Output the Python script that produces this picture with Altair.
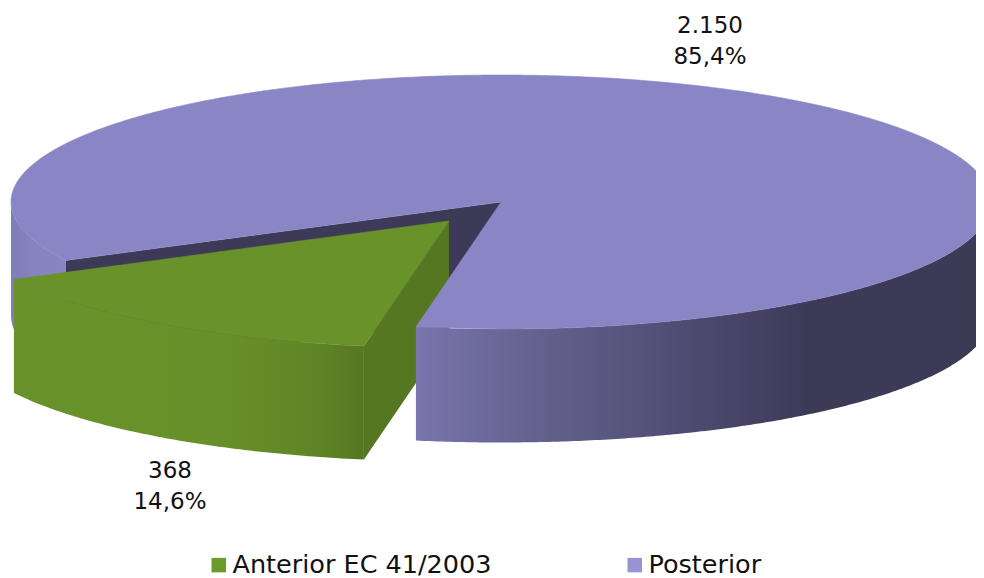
import numpy as np
import pandas as pd
import altair as alt

# Data
CATEGORIES = ["Anterior EC 41/2003", "Posterior"]
VALUES = [368, 2150]
VALUE_LABELS = ["368", "2.150"]
PCT_LABELS = ["14,6%", "85,4%"]
LEGEND_COLORS = ["#6c9a2b", "#9894d3"]

# 3D pie projection (picture pixels)
CX, CY, RX, RY = 501.0, 202.0, 490.0, 127.0
DEPTH = 113.5 / RY
EXPLODE_U, EXPLODE_V = -52.0 / RX, 19.0 / RY
START_DEG = 10.0
W, H = 968, 570
FONT = "DejaVu Sans"

share = VALUES[0] / sum(VALUES)
phi0 = np.radians(START_DEG)
phi1 = phi0 + 2 * np.pi * share
uB, vB = -np.sin(phi0), np.cos(phi0)
uA, vA = -np.sin(phi1), np.cos(phi1)


def ell(u):
    return np.sqrt(np.clip(1 - u * u, 0, 1))


def span(a, b, n=160):
    """u values between a and b, dense near the ellipse's vertical tangents."""
    s = np.linspace(np.arcsin(a), np.arcsin(b), n)
    return np.sin(s)


def frame(u, top, bot):
    return pd.DataFrame({"u": u, "v": top, "v2": bot})


xs = alt.Scale(domain=[(8 - CX) / RX, (8 + W - CX) / RX], nice=False, zero=False)
ys = alt.Scale(domain=[(8 + H - CY) / RY, (8 - CY) / RY], nice=False, zero=False)


def area(df, fill, stroke=None):
    kw = {"stroke": stroke, "strokeWidth": 0.6} if stroke else {}
    return alt.Chart(df).mark_area(orient="vertical", fill=fill, clip=True, **kw).encode(
        x=alt.X("u:Q", scale=xs, axis=None),
        y=alt.Y("v:Q", scale=ys, axis=None),
        y2="v2:Q",
    )


def grad(stops):
    return alt.Gradient(
        gradient="linear", x1=0, x2=1, y1=0, y2=0,
        stops=[alt.GradientStop(offset=o, color=c) for o, c in stops],
    )


PURPLE_TOP = "#8a86c6"
GREEN_TOP = "#6a922a"

# Purple outer wall, left of the gap
u = span(-1, uA, 60)
p_left = area(frame(u, ell(u), ell(u) + DEPTH),
              grad([(0, "#7f7cb8"), (0.4, "#8683bd"), (1, "#8885c2")]))

# Purple inner wall seen through the gap
u = np.array([uA, 0.0])
p_inner = area(frame(u, np.array([vA, 0.0]), np.array([vA, 0.0]) + DEPTH), "#3c3a57")

# Green slice
u = span(uA, uB, 80)
g_wall = area(frame(u + EXPLODE_U, ell(u) + EXPLODE_V, ell(u) + EXPLODE_V + DEPTH),
              grad([(0, GREEN_TOP), (0.6, "#68902a"), (0.87, "#5f8426"), (1, "#567722")]))
u = np.array([uB, 0.0])
g_inner = area(frame(u + EXPLODE_U, np.array([vB, 0.0]) + EXPLODE_V,
                     np.array([vB, 0.0]) + EXPLODE_V + DEPTH), "#567722")
gu = np.concatenate([span(uA, uB, 80), [0.0]])
g_top_v = vA * gu / uA
g_bot_v = np.where(gu <= uB, ell(gu), vB * gu / uB)
g_top = area(frame(gu + EXPLODE_U, g_top_v + EXPLODE_V, g_bot_v + EXPLODE_V), GREEN_TOP, GREEN_TOP)

# Purple outer wall, front
u = span(uB, 1, 200)
p_front = area(frame(u, ell(u), ell(u) + DEPTH),
               grad([(0, "#7975ad"), (0.2, "#65628f"), (0.45, "#504d75"),
                     (0.68, "#3d3a58"), (1, "#3c3a55")]))

# Purple top face, in two pieces either side of the centre
ua = np.concatenate([span(-1, uA, 80), span(uA, 0, 120)[1:]])
a_low = np.where(ua <= uA, ell(ua), vA * ua / uA)
p_top_a = area(frame(ua, -ell(ua), a_low), PURPLE_TOP, PURPLE_TOP)
ub = np.concatenate([np.array([uB, 0.0]), span(0, 1, 200)])
b_top = -ell(ub)
b_top[0], b_top[1] = vB, 0.0
b_low = ell(ub)
p_top_b = area(frame(ub, b_top, b_low), PURPLE_TOP, PURPLE_TOP)

# Data labels
LABEL_PX = [(170, 471, 502), (710, 26, 57)]
rows = []
for (px, y1, y2), val, pct in zip(LABEL_PX, VALUE_LABELS, PCT_LABELS):
    rows.append({"u": (px - CX) / RX, "v": (y1 - CY) / RY, "t": val})
    rows.append({"u": (px - CX) / RX, "v": (y2 - CY) / RY, "t": pct})
labels = alt.Chart(pd.DataFrame(rows)).mark_text(
    font=FONT, fontSize=23, color="#111111", align="center", baseline="middle"
).encode(
    x=alt.X("u:Q", scale=xs, axis=None),
    y=alt.Y("v:Q", scale=ys, axis=None),
    text="t:N",
)

# Legend carrier
leg_df = pd.DataFrame({"c": CATEGORIES, "u": [0.0, 0.0], "v": [0.0, 0.0]})
legend = alt.Chart(leg_df).mark_square(size=0, opacity=1).encode(
    x=alt.X("u:Q", scale=xs, axis=None),
    y=alt.Y("v:Q", scale=ys, axis=None),
    color=alt.Color(
        "c:N",
        scale=alt.Scale(domain=CATEGORIES, range=LEGEND_COLORS),
        legend=alt.Legend(
            title=None, orient="none", legendX=198, legendY=544, direction="horizontal",
            columns=2, columnPadding=130, symbolType="square", symbolSize=210,
            symbolStrokeWidth=0, symbolOpacity=1, labelFont=FONT, labelFontSize=25.5,
            labelColor="#111111", labelLimit=400, labelOffset=1,
        ),
    ),
)

chart = alt.layer(
    p_left, p_inner, g_wall, g_inner, g_top, p_front, p_top_a, p_top_b, labels, legend
).properties(
    width=W, height=H, padding=0, autosize=alt.AutoSizeParams(type="none"),
).configure_view(stroke=None)

chart.save("out.html", embed_options={"renderer": "svg", "actions": False})
